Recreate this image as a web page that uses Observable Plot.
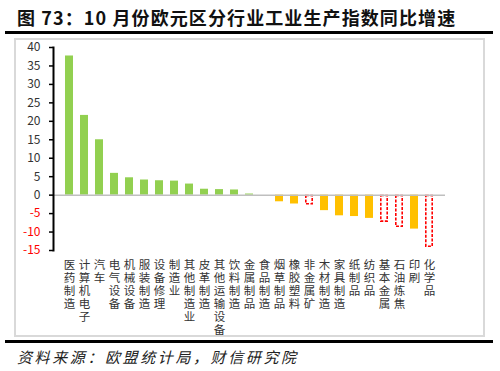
<!DOCTYPE html>
<html><head><meta charset="utf-8">
<script src="https://cdn.jsdelivr.net/npm/d3@7"></script>
<script src="https://cdn.jsdelivr.net/npm/@observablehq/plot@0.6"></script>
<style>
html,body{margin:0;padding:0;background:#fff;}
#wrap{position:relative;width:500px;height:371px;overflow:hidden;font-family:"Noto Sans CJK SC","Noto Sans",sans-serif;}
#title{position:absolute;left:17px;top:4px;font-size:18px;font-weight:bold;color:#111;letter-spacing:1.1px;white-space:nowrap;}
#line1{position:absolute;left:5px;top:31px;width:488px;height:2.5px;background:#000;}
#box{position:absolute;left:14px;top:38px;width:467px;height:295px;border:2px solid #d9d9d9;}
#chart{position:absolute;left:0;top:38px;}
#line2{position:absolute;left:5px;top:340px;width:488px;height:2.5px;background:#000;}
#source{position:absolute;left:17px;top:346px;font-size:15px;font-style:italic;color:#222;letter-spacing:2.6px;white-space:nowrap;}
</style></head>
<body>
<div id="wrap">
<div id="title">图 73：10 月份欧元区分行业工业生产指数同比增速</div>
<div id="line1"></div>
<div id="box"></div>
<div id="chart"></div>
<div id="line2"></div>
<div id="source">资料来源：欧盟统计局，财信研究院</div>
</div>
<script>
const categories = ["医药制造","计算机电子","汽车","电气设备","机械设备","服装制造","设备修理","制造业","其他制造业","皮革制造","其他运输设备","饮料制造","金属制品","食品制造","烟草制品","橡胶塑料","非金属矿","木材制造","家具制造","纸制品","纺织品","基本金属","石油炼焦","印刷","化学品"];
const values = [37.7,21.6,15.0,5.9,4.7,4.1,3.9,3.8,3.0,1.6,1.5,1.4,0.3,0.0,-1.8,-2.4,-2.7,-4.2,-5.6,-5.8,-6.3,-7.4,-8.8,-9.2,-14.2];
const outlined = ["非金属矿","基本金属","石油炼焦","化学品"];
const yTicks = [40,35,30,25,20,15,10,5,0,-5,-10,-15];

const data = categories.map((c,i)=>({cat:c, v:values[i]}));
const solid = data.filter(d=>!outlined.includes(d.cat));
const dashed = data.filter(d=>outlined.includes(d.cat));
const RED = "#ff0000";

const chart = Plot.plot({
  width: 500, height: 296,
  marginTop: 9, marginBottom: 84, marginLeft: 53, marginRight: 55,
  style: {fontFamily: '"Noto Sans CJK SC","Noto Sans",sans-serif', background: "transparent", overflow: "visible"},
  x: {domain: categories, padding: 0.5, axis: null, label: null},
  y: {domain: [-15, 40], axis: null, label: null},
  marks: [
    Plot.barY(solid, {x: "cat", y: "v", fill: d => d.v >= 0 ? "#92d050" : "#ffc000"}),
    Plot.barY(dashed, {x: "cat", y: "v", fill: "#fff", stroke: RED, strokeWidth: 1.6, strokeDasharray: "3,1.5", inset: 0.8}),
    Plot.ruleY([0], {stroke: "#bfbfbf", strokeWidth: 1.5}),
    Plot.frame({anchor: "left", stroke: "#000", strokeWidth: 2}),
    Plot.axisY({ticks: yTicks, label: null, tickSize: 4, tickPadding: 9, stroke: "#000", strokeWidth: 1.5, fontSize: 12, fill: d => d < 0 ? RED : "#333", tickFormat: d => String(d)}),
    Plot.axisX({label: null, tickSize: 0, tickPadding: 9, fontSize: 11.5, lineHeight: 1.13, fill: "#333", tickFormat: d => [...d].join("\n")})
  ]
});
document.getElementById("chart").appendChild(chart);
</script>
</body></html>
